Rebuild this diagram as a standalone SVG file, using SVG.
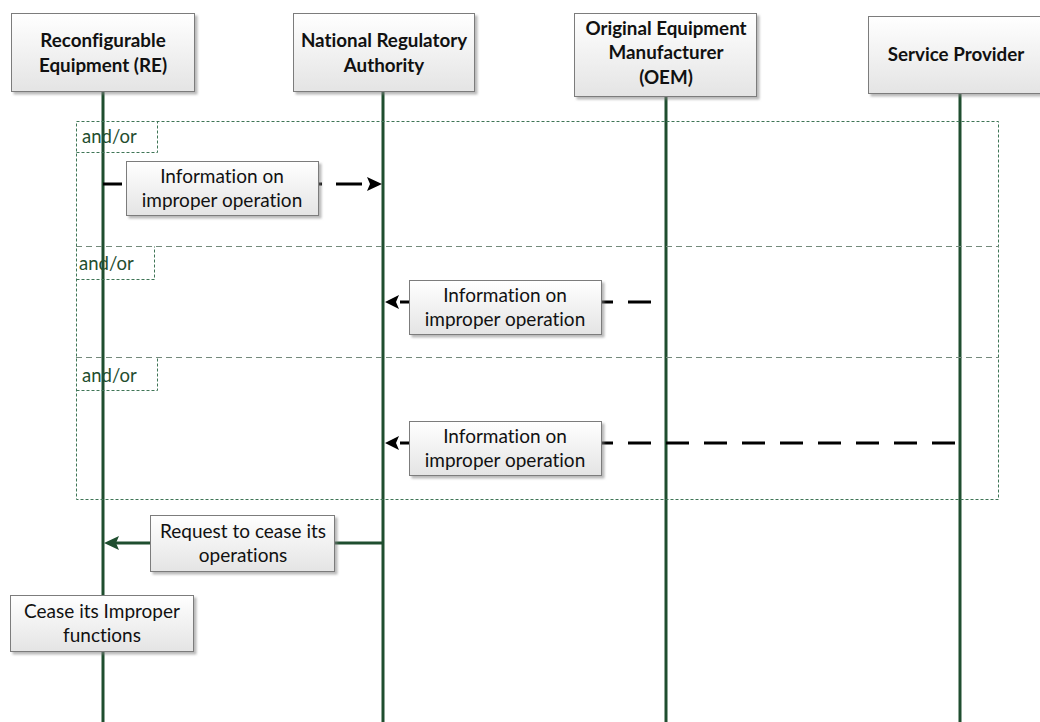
<svg xmlns="http://www.w3.org/2000/svg" width="1040" height="722" viewBox="0 0 1040 722">
  <defs>
    <linearGradient id="boxFill" x1="0" y1="0" x2="0" y2="1">
      <stop offset="0" stop-color="#ffffff"/>
      <stop offset="1" stop-color="#e4e4e4"/>
    </linearGradient>
    <filter id="shadow" x="-10%" y="-10%" width="130%" height="140%">
      <feDropShadow dx="2.5" dy="2.5" stdDeviation="1.2" flood-color="#808080" flood-opacity="0.55"/>
    </filter>
  </defs>
  <style>
    text { font-variant-ligatures: none; }
    .box { fill: url(#boxFill); stroke: #7c7c7c; stroke-width: 1; filter: url(#shadow); }
    .head { font-family: Lato, "Liberation Sans", sans-serif; font-weight: bold; font-size: 18.8px; fill: #111; text-anchor: middle; }
    .lbl { font-family: Lato, "Liberation Sans", sans-serif; font-size: 19px; fill: #111; text-anchor: middle; }
    .life { stroke: #1f4e2f; stroke-width: 3; fill: none; }
    .frame { fill: none; stroke: #3f7556; stroke-width: 1; stroke-dasharray: 3 2; }
    .divider { fill: none; stroke: #748a7c; stroke-width: 1; stroke-dasharray: 6 4; }
    .cond { font-family: Lato, "Liberation Sans", sans-serif; font-size: 18.5px; fill: #1f4e2f; }
    .dash { stroke: #000; stroke-width: 3; fill: none; stroke-dasharray: 23 15; }
    .solid { stroke: #1f4e2f; stroke-width: 3; fill: none; }
  </style>

  <!-- lifelines -->
  <g id="lifelines">
    <line class="life" x1="103" y1="92" x2="103" y2="722"/>
    <line class="life" x1="383" y1="92" x2="383" y2="722"/>
    <line class="life" x1="666" y1="97" x2="666" y2="722"/>
    <line class="life" x1="960" y1="94" x2="960" y2="722"/>
  </g>

  <!-- combined fragment with three alternative sections -->
  <g id="fragment">
    <rect class="frame" x="76.5" y="121.5" width="922" height="378"/>
    <line class="divider" x1="76" y1="246.5" x2="999" y2="246.5"/>
    <line class="divider" x1="76" y1="357.5" x2="999" y2="357.5"/>
    <path class="frame" d="M76.5,152.5 H157.5 V121.5"/>
    <path class="frame" d="M76.5,279.5 H154.5 V246.5"/>
    <path class="frame" d="M76.5,390.5 H157.5 V357.5"/>
    <text class="cond" x="82" y="143">and/or</text>
    <text class="cond" x="79" y="270">and/or</text>
    <text class="cond" x="82" y="382">and/or</text>
  </g>

  <!-- message connectors -->
  <g id="connectors">
    <!-- RE to NRA -->
    <line class="dash" x1="362" y1="184" x2="103" y2="184" style="stroke-dasharray:26 14"/>
    <polygon points="382,184 367,177 370,184 367,191" fill="#000"/>
    <!-- OEM to NRA -->
    <line class="dash" x1="651" y1="302" x2="398" y2="302"/>
    <polygon points="385,302 399,295 396,302 399,309" fill="#000"/>
    <!-- Service Provider to NRA -->
    <line class="dash" x1="955" y1="443" x2="398" y2="443"/>
    <polygon points="385,443 399,436 396,443 399,450" fill="#000"/>
    <!-- NRA to RE -->
    <line class="solid" x1="383" y1="543" x2="116" y2="543"/>
    <polygon points="104,543 119,536 116,543 119,550" fill="#1f4e2f"/>
  </g>

  <!-- participant headers -->
  <g id="re">
    <rect class="box" x="11.5" y="13.5" width="183" height="78"/>
    <text class="head" x="103" y="47">Reconfigurable</text>
    <text class="head" x="103" y="72">Equipment (RE)</text>
  </g>
  <g id="nra">
    <rect class="box" x="293.5" y="13.5" width="181" height="78"/>
    <text class="head" x="384" y="47">National Regulatory</text>
    <text class="head" x="384" y="72">Authority</text>
  </g>
  <g id="oem">
    <rect class="box" x="574.5" y="13.5" width="182" height="83"/>
    <text class="head" x="666" y="35">Original Equipment</text>
    <text class="head" x="666" y="59">Manufacturer</text>
    <text class="head" x="666" y="84">(OEM)</text>
  </g>
  <g id="sp">
    <rect class="box" x="868.5" y="16.5" width="174" height="77"/>
    <text class="head" x="956" y="61">Service Provider</text>
  </g>

  <!-- message labels -->
  <g id="msg-re-nra">
    <rect class="box" x="126.5" y="161.5" width="192" height="54"/>
    <text class="lbl" x="222" y="183">Information on</text>
    <text class="lbl" x="222" y="207">improper operation</text>
  </g>
  <g id="msg-oem-nra">
    <rect class="box" x="409.5" y="280.5" width="192" height="54"/>
    <text class="lbl" x="505" y="302">Information on</text>
    <text class="lbl" x="505" y="326">improper operation</text>
  </g>
  <g id="msg-sp-nra">
    <rect class="box" x="409.5" y="421.5" width="192" height="54"/>
    <text class="lbl" x="505" y="443">Information on</text>
    <text class="lbl" x="505" y="467">improper operation</text>
  </g>
  <g id="msg-nra-re">
    <rect class="box" x="150.5" y="515.5" width="184" height="56"/>
    <text class="lbl" x="243" y="538">Request to cease its</text>
    <text class="lbl" x="243" y="562">operations</text>
  </g>
  <g id="re-action">
    <rect class="box" x="10.5" y="595.5" width="183" height="56"/>
    <text class="lbl" x="102" y="618">Cease its Improper</text>
    <text class="lbl" x="102" y="642">functions</text>
  </g>
</svg>
